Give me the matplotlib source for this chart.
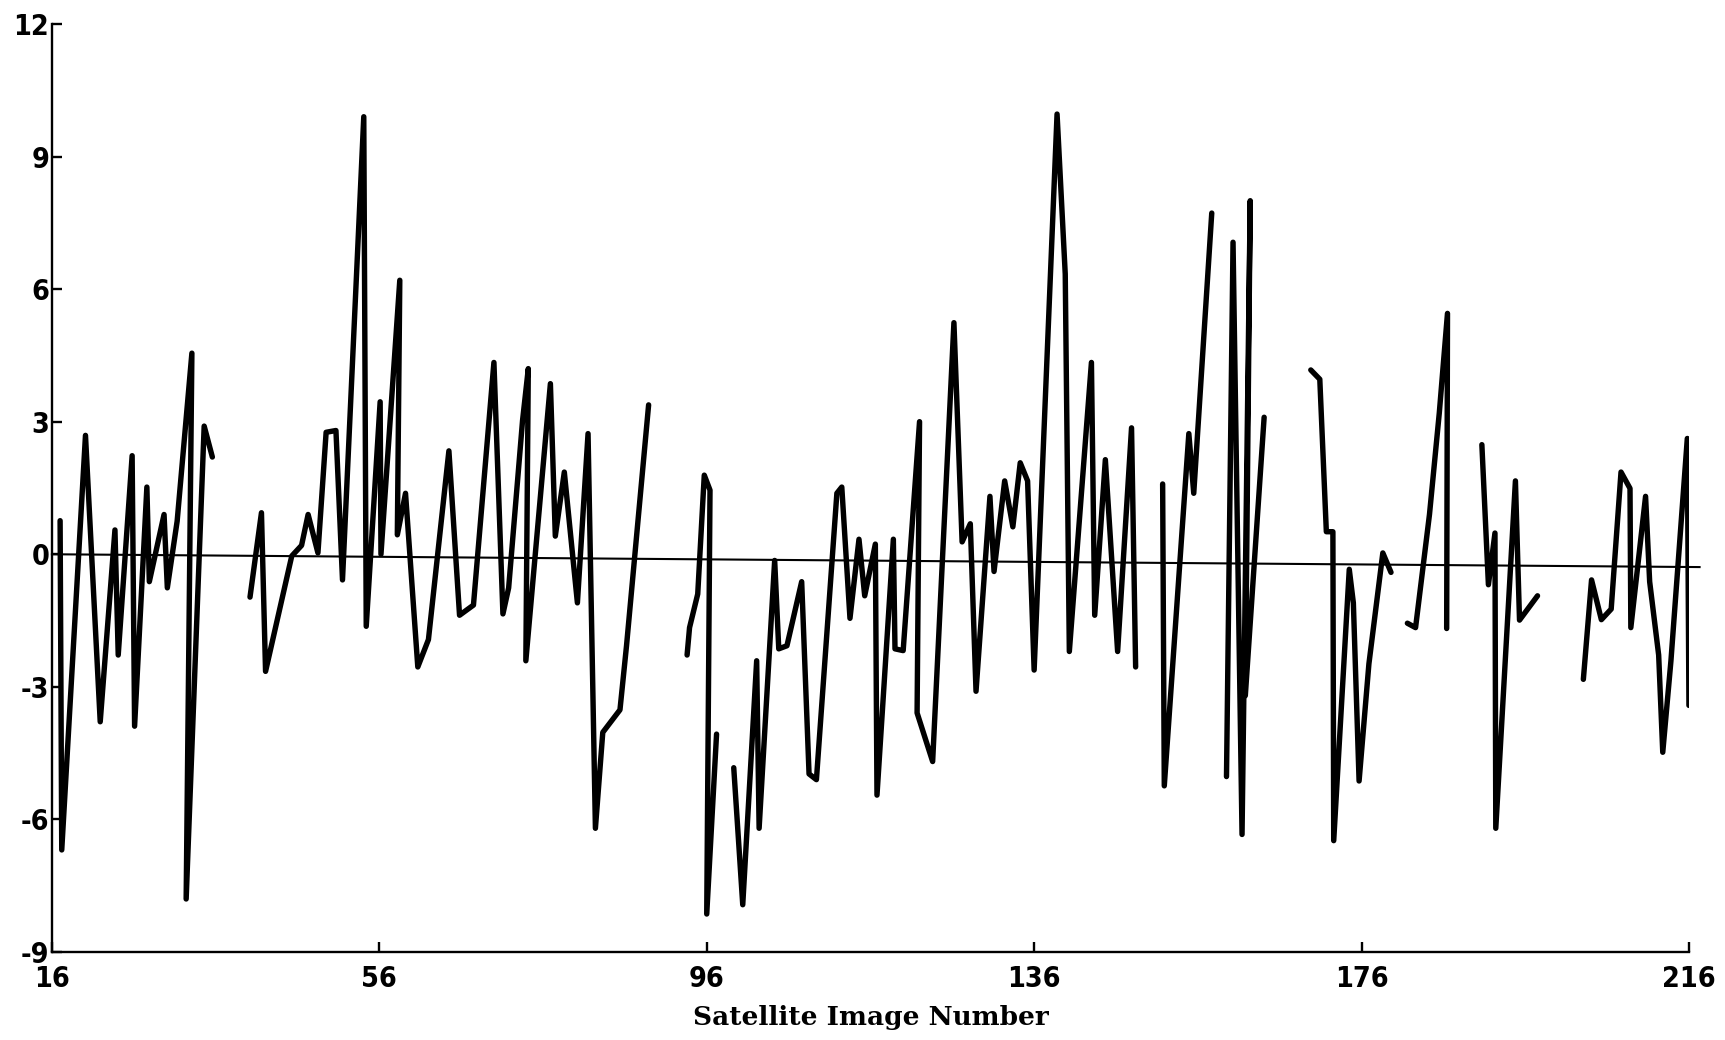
import numpy as np
import matplotlib
matplotlib.use("Agg")
import matplotlib.pyplot as plt

nan = np.nan

# Satellite image number (x) and deviation (y); NaN marks gaps in the record
image_number = [
    17.0, 17.2, 20.1, 21.9, 23.7, 24.1, 25.8, 26.1, 27.6, 27.9, 29.7, 30.1, 31.3, 33.1, 32.4, 34.6, 35.6,
    nan,
    40.2, 41.6, 42.1, 45.3, 46.5, 47.3, 48.5, 49.5, 50.7, 51.5, 54.1, 54.4, 56.1, 56.2, 58.5, 58.2, 59.2,
    60.7, 62.0, 64.5, 65.8, 67.5, 70.0, 71.1, 71.8, 73.5, 74.2, 73.9, 76.9, 77.5, 78.6, 80.2, 81.5, 82.4,
    83.3, 85.4, 86.2, 88.9,
    nan,
    93.6, 93.9, 94.9, 95.7, 96.4, 96.0, 97.2,
    nan,
    99.3, 100.4, 102.1, 102.4, 104.3, 104.8, 105.8, 107.6, 108.5, 109.4, 111.9, 112.5, 113.5, 114.6, 115.3,
    116.6, 116.8, 118.8, 119.0, 120.0, 122.0, 121.7, 123.6, 126.2, 127.2, 128.2, 128.9, 130.6, 131.1, 132.4,
    133.4, 134.3, 135.2, 136.0, 138.8, 139.8, 140.3, 143.0, 143.4, 144.7, 146.2, 147.9, 148.4,
    nan,
    151.7, 151.9, 154.9, 155.5, 157.7,
    nan,
    159.5, 160.3, 161.4, 162.4, 161.8, 164.1,
    nan,
    169.8, 170.9, 171.7, 172.5, 172.6, 174.5, 175.0, 175.7, 176.9, 178.6, 179.6,
    nan,
    181.6, 182.6, 184.3, 185.5, 186.5, 186.4,
    nan,
    190.7, 191.5, 192.3, 192.4, 194.8, 195.3, 197.5,
    nan,
    203.1, 204.1, 205.3, 206.5, 207.7, 208.8, 208.9, 210.7, 211.2, 212.3, 212.8, 213.8, 215.8, 216.0,
]

deviation = [
    0.76, -6.69, 2.69, -3.79, 0.55, -2.28, 2.23, -3.89, 1.52, -0.62, 0.90, -0.76, 0.75, 4.55, -7.80, 2.90, 2.20,
    nan,
    -0.97, 0.94, -2.65, -0.04, 0.20, 0.90, 0.03, 2.76, 2.80, -0.58, 9.90, -1.63, 3.45, 0.00, 6.20, 0.44, 1.38,
    -2.55, -1.93, 2.34, -1.38, -1.15, 4.34, -1.35, -0.76, 3.03, 4.20, -2.41, 3.86, 0.41, 1.86, -1.10, 2.73, -6.20,
    -4.03, -3.52, -2.07, 3.38,
    nan,
    -2.28, -1.66, -0.90, 1.79, 1.45, -8.14, -4.07,
    nan,
    -4.83, -7.93, -2.41, -6.20, -0.14, -2.14, -2.07, -0.62, -4.97, -5.10, 1.38, 1.52, -1.45, 0.34, -0.94,
    0.23, -5.45, 0.34, -2.14, -2.18, 3.00, -3.59, -4.69, 5.24, 0.28, 0.69, -3.10, 1.31, -0.39, 1.66,
    0.62, 2.07, 1.66, -2.62, 9.96, 6.34, -2.20, 4.34, -1.38, 2.14, -2.20, 2.86, -2.55,
    nan,
    1.59, -5.24, 2.73, 1.38, 7.72,
    nan,
    -5.03, 7.06, -6.34, 8.00, -3.20, 3.10,
    nan,
    4.17, 3.96, 0.51, 0.51, -6.48, -0.34, -1.10, -5.13, -2.48, 0.03, -0.41,
    nan,
    -1.56, -1.66, 0.90, 3.20, 5.45, -1.68,
    nan,
    2.48, -0.69, 0.48, -6.20, 1.66, -1.49, -0.94,
    nan,
    -2.83, -0.58, -1.48, -1.24, 1.86, 1.49, -1.66, 1.31, -0.62, -2.28, -4.48, -2.41, 2.62, -3.42,
]

# fitted trend line end points
trend_x = [16, 217.3]
trend_y = [0.0, -0.29]

x_ticks = [16, 56, 96, 136, 176, 216]
y_ticks = [-9, -6, -3, 0, 3, 6, 9, 12]

fig = plt.figure(figsize=(17.25, 10.4), dpi=100)
ax = fig.add_axes([0.0301, 0.0846, 0.949, 0.8924])

ax.plot(image_number, deviation, color="black", lw=3.9,
        solid_joinstyle="round", solid_capstyle="round", zorder=3)
ax.plot(trend_x, trend_y, color="black", lw=1.5, clip_on=False, zorder=2)

ax.set_xlim(16, 216)
ax.set_ylim(-9, 12)
ax.set_xticks(x_ticks)
ax.set_yticks(y_ticks)
ax.set_xticklabels([str(v) for v in x_ticks])
ax.set_yticklabels([str(v) for v in y_ticks])

for s in ["top", "right"]:
    ax.spines[s].set_visible(False)
for s in ["left", "bottom"]:
    ax.spines[s].set_linewidth(1.7)

ax.tick_params(axis="both", direction="in", length=7, width=1.7)
ax.tick_params(axis="y", pad=2)
ax.tick_params(axis="x", pad=9)
for lab in ax.get_xticklabels() + ax.get_yticklabels():
    lab.set_family(["DejaVu Sans"])
    lab.set_fontstretch("condensed")
    lab.set_fontweight("bold")
    lab.set_fontsize(20.5)

ax.set_xlabel("Satellite Image Number", fontsize=19, fontweight="bold",
              family=["DejaVu Serif"], labelpad=9)

fig.savefig("out.png", dpi=100)
